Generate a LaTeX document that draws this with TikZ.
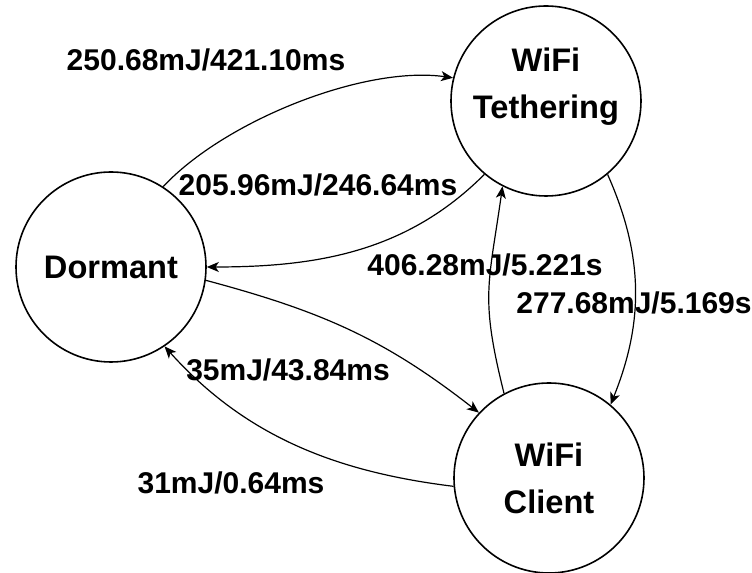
\documentclass[tikz,border=0pt]{standalone}
\usepackage{fontspec}
\setmainfont{Liberation Sans}
\usepackage{tikz}
\usetikzlibrary{arrows.meta, positioning}

\begin{document}
\begin{tikzpicture}[
  x=0.5pt, y=0.5pt,
  statetext/.style={align=center, inner sep=0pt, font=\fontsize{16.3}{23.5}\selectfont\bfseries},
  state/.style={statetext, draw, circle, line width=0.8pt, minimum size=95pt},
  trans/.style={-{Stealth[length=6pt, width=5pt, inset=1.6pt]}, line width=0.6pt},
  cost/.style={font=\fontsize{15}{18}\selectfont\bfseries, inner sep=0pt},
]
\useasboundingbox (0,0) rectangle (752,573);

% States
\node[state] (dorm) at (111,306) {Dormant};
\node[state] (teth) at (546,472) {};
\node[statetext] (tethtxt) at ([yshift=7pt]teth.center) {WiFi\\Tethering};
\node[state] (client) at (549,95) {WiFi\\Client};

% Transitions
\draw[trans] (dorm.57) .. controls +(47:90) and +(172:90) .. (teth.166);
\draw[trans] (teth.230) .. controls +(225:110) and +(0:110) .. (dorm.0);
\draw[trans] (dorm.-8) .. controls +(-15:120) and +(142:120) .. (client.137);
\draw[trans] (client.185) .. controls +(173:120) and +(-48:120) .. (dorm.-56);
\draw[trans] (teth.-50) .. controls +(-66:89) and +(68:89) .. (client.50);
\draw[trans] (client.118) .. controls +(104:100) and +(262:100) .. (teth.243);

% Costs
\node[cost] (c1) at (206,513) {250.68mJ/421.10ms};
\node[cost] (c2) at (318,388) {205.96mJ/246.64ms};
\node[cost] (c3) at (485,308) {406.28mJ/5.221s};
\node[cost] (c4) at (634,270) {277.68mJ/5.169s};
\node[cost] (c5) at (288,203) {35mJ/43.84ms};
\node[cost] (c6) at (231,90) {31mJ/0.64ms};

\end{tikzpicture}
\end{document}
